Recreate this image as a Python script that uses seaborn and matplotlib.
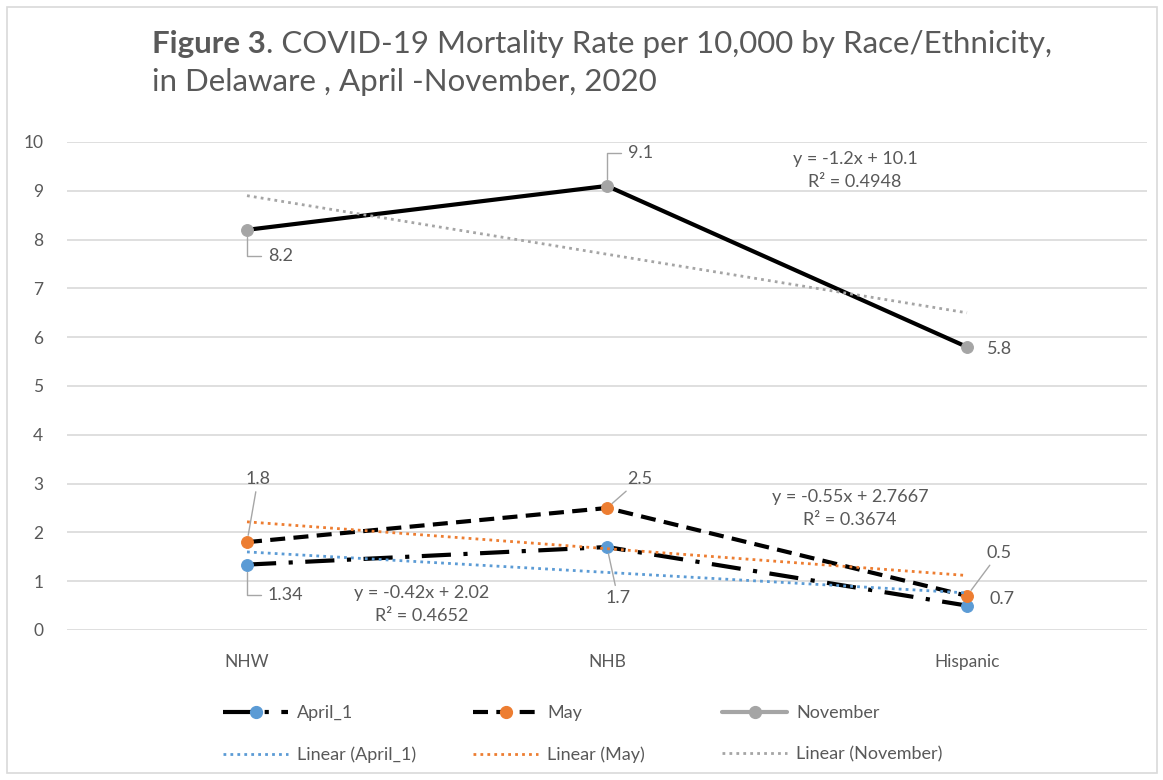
import numpy as np
import pandas as pd
import matplotlib
matplotlib.use("Agg")
import matplotlib.pyplot as plt
import seaborn as sns
from matplotlib.lines import Line2D
from matplotlib.patches import Rectangle

# ---------------- data ----------------
categories = ["NHW", "NHB", "Hispanic"]
april_1 = [1.34, 1.7, 0.5]
may = [1.8, 2.5, 0.7]
november = [8.2, 9.1, 5.8]
yticks = list(range(0, 11))
series_names = ["April_1", "May", "November"]
eq_november = ["y = -1.2x + 10.1", "R\u00b2 = 0.4948"]
eq_may = ["y = -0.55x + 2.7667", "R\u00b2 = 0.3674"]
eq_april = ["y = -0.42x + 2.02", "R\u00b2 = 0.4652"]

# ---------------- style ----------------
sns.set_theme(style="white")
plt.rcParams['font.family'] = ['Lato', 'DejaVu Sans']
TXT = '#595959'
GRID = '#D9D9D9'
LEAD = '#A6A6A6'
BLUE = '#5B9BD5'
ORANGE = '#ED7D31'
GRAY = '#A5A5A5'

W, H = 1163, 780
fig = plt.figure(figsize=(W / 100, H / 100), dpi=100)
fig.patch.set_facecolor('white')
fig.patches.append(Rectangle((7 / W, 1 - 773 / H), 1150 / W, 766 / H,
                             transform=fig.transFigure, fill=False,
                             edgecolor=GRID, lw=1.2))

ax = fig.add_axes([67 / W, (H - 630) / H, 1080 / W, 488 / H])
pos = np.arange(len(categories))

df = pd.DataFrame({
    'pos': np.tile(pos, 3),
    'value': april_1 + may + november,
    'series': np.repeat(series_names, len(categories)),
})

styles = {
    'April_1': dict(ls=(0, (7, 3, 1, 3)), mc=BLUE),
    'May': dict(ls=(0, (3.6, 2)), mc=ORANGE),
    'November': dict(ls='-', mc=GRAY),
}
MS = 8.5

for name in series_names:
    sub = df[df['series'] == name]
    st = styles[name]
    sns.lineplot(data=sub, x='pos', y='value', ax=ax, color='black', lw=3,
                 linestyle=st['ls'], marker='o', markersize=MS,
                 markerfacecolor=st['mc'], markeredgecolor=st['mc'],
                 zorder=3, legend=False, errorbar=None)
    sns.regplot(data=sub, x='pos', y='value', ax=ax, scatter=False, ci=None,
                truncate=True,
                line_kws=dict(color=st['mc'], lw=2, linestyle=(0, (1, 1.5)),
                              zorder=4))

ax.set_xlim(-0.5, 2.5)
ax.set_ylim(0, 10)
ax.set_yticks(yticks)
ax.set_xticks(pos)
ax.set_xticklabels(categories)
ax.set_xlabel('')
ax.set_ylabel('')
ax.grid(axis='y', color=GRID, lw=1.2)
ax.set_axisbelow(True)
for s in ax.spines.values():
    s.set_visible(False)
ax.tick_params(axis='both', length=0, labelsize=12.5, colors=TXT)
ax.tick_params(axis='y', pad=17)
ax.tick_params(axis='x', pad=17)

# ---------------- data labels ----------------
lab = dict(fontsize=13, color=TXT, textcoords='offset pixels')
elbow = dict(arrowstyle='-', color=LEAD, lw=1,
             connectionstyle='angle,angleA=0,angleB=90,rad=0',
             shrinkA=3, shrinkB=5)
straight = dict(arrowstyle='-', color=LEAD, lw=1, shrinkA=1, shrinkB=5)

ax.annotate(f"{november[0]}", (0, november[0]), xytext=(21, -26),
            ha='left', va='center', arrowprops=elbow, **lab)
ax.annotate(f"{november[1]}", (1, november[1]), xytext=(21, 33),
            ha='left', va='center', arrowprops=elbow, **lab)
ax.annotate(f"{november[2]}", (2, november[2]), xytext=(20, -2),
            ha='left', va='center', **lab)
ax.annotate(f"{april_1[0]}", (0, april_1[0]), xytext=(21, -30),
            ha='left', va='center', arrowprops=elbow, **lab)
ax.annotate(f"{may[0]}", (0, may[0]), xytext=(11, 63),
            ha='center', va='center', arrowprops=straight, **lab)
ax.annotate(f"{may[1]}", (1, may[1]), xytext=(33, 29),
            ha='center', va='center', arrowprops=straight, **lab)
ax.annotate(f"{april_1[1]}", (1, april_1[1]), xytext=(11, -51),
            ha='center', va='center', arrowprops=straight, **lab)
ax.annotate(f"{april_1[2]}", (2, may[2]), xytext=(32, 43),
            ha='center', va='center', arrowprops=straight, **lab)
ax.annotate(f"{may[2]}", (2, may[2]), xytext=(22, -3),
            ha='left', va='center', **lab)

# ---------------- trendline equations ----------------
eq_kw = dict(fontsize=13, color=TXT, ha='center', va='center', linespacing=1.5)
ax.text(1.689, 9.42, "\n".join(eq_november), **eq_kw)
ax.text(1.675, 2.49, "\n".join(eq_may), **eq_kw)
ax.text(0.486, 0.52, "\n".join(eq_april), **eq_kw)

# ---------------- title ----------------
TFS = 22.5
t1 = fig.text(152 / W, 1 - 53 / H, "Figure 3", fontsize=TFS, fontweight='bold',
              color=TXT, ha='left', va='baseline')
fig.canvas.draw()
bb = t1.get_window_extent()
fig.text(bb.x1 / W, 1 - 53 / H,
         ". COVID-19 Mortality Rate per 10,000 by Race/Ethnicity,",
         fontsize=TFS, color=TXT, ha='left', va='baseline')
fig.text(152 / W, 1 - 91 / H, "in Delaware , April -November, 2020",
         fontsize=TFS, color=TXT, ha='left', va='baseline')

# ---------------- legend ----------------
handles = {
    'April_1': Line2D([], [], color='black', lw=3, linestyle=styles['April_1']['ls'],
                      marker='o', markersize=MS, markerfacecolor=BLUE, markeredgecolor=BLUE),
    'May': Line2D([], [], color='black', lw=3, linestyle=styles['May']['ls'],
                  marker='o', markersize=MS, markerfacecolor=ORANGE, markeredgecolor=ORANGE),
    'November': Line2D([], [], color=GRAY, lw=3, linestyle='-',
                       marker='o', markersize=MS, markerfacecolor=GRAY, markeredgecolor=GRAY),
}
trend_h = {n: Line2D([], [], color=styles[n]['mc'], lw=2, linestyle=(0, (1, 1.5)))
           for n in series_names}
col_x = [223, 473, 722]
for cx, n in zip(col_x, series_names):
    fig.legend([handles[n], trend_h[n]], [n, f"Linear ({n})"],
               loc='upper left', bbox_to_anchor=(cx / W, 1 - 705 / H),
               frameon=False, fontsize=13, labelcolor=TXT,
               handlelength=3.6, handletextpad=0.5, borderpad=0,
               borderaxespad=0, labelspacing=1.4, numpoints=1)

fig.savefig("out.png", dpi=100, facecolor='white')
